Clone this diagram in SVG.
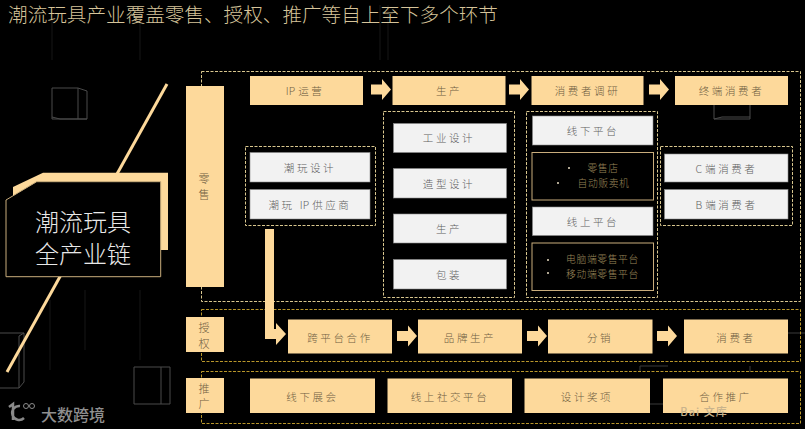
<svg xmlns="http://www.w3.org/2000/svg" width="805" height="429" viewBox="0 0 805 429">
<defs>
<style>
text{font-family:"Noto Sans CJK SC","Noto Sans",sans-serif;text-anchor:middle;dominant-baseline:central}
.t{fill:#fdd99b}
.w{fill:#f2f2f2;stroke:#8a8a8a;stroke-width:.6}
.tl{font-size:10.5px;letter-spacing:2.6px;fill:#6f5e42;font-weight:300}
.wl{font-size:10.5px;letter-spacing:2.6px;fill:#5f5f5f;font-weight:300}
.lat{letter-spacing:.3px}
.v{font-size:11px;fill:#6f5e42;font-weight:300}
.b{font-size:9.800px;letter-spacing:.6px;fill:#9a8658;font-weight:300}
.d1{fill:none;stroke:#d8c68e;stroke-width:1;stroke-dasharray:3 1.5}
.d2{fill:none;stroke:#b8962a;stroke-width:1;stroke-dasharray:3 1.5}
.k{fill:#000;stroke:#c9ad7c;stroke-width:1}
.c{fill:none;stroke:#4a4a4a;stroke-width:1}
.dot{fill:#e8dcc0}
</style>
<path id="arr" d="M0,-5 H11 V-10.5 L20,0 L11,10.5 V5 H0 Z" fill="#fdd99b"/>
</defs>
<rect width="805" height="429" fill="#000"/>
<g id="background">
<path class="c" d="M52,88H78V119H52Z M78,88L87,91V119H78 M52,117L60,119H87"/>
<path class="c" d="M0,333H24L19,336V388H0 M24,333V382L19,388"/>
<path class="c" d="M134,367H170V404H134Z M161,367V404"/>
<path class="c" d="M714,105V119H750V105 M714,119L722,117H750"/>
<path d="M52,10V60 M140,10V60 M380,5V60 M388,5V60 M50,300V370 M85,290V350 M140,290V360" stroke="#161616" fill="none"/>
<path d="M640,366H668 M640,366V372 M780,333H805 M750,366V372 M650,404H668" stroke="#3a3a3a" fill="none"/>
</g>
<text x="253" y="13" style="font-size:19.600px;fill:#d6c49a;font-weight:300">潮流玩具产业覆盖零售、授权、推广等自上至下多个环节</text>
<g id="frames">
<rect class="d1" x="201.500" y="71.500" width="599" height="230"/>
<rect class="d2" x="201.500" y="309.500" width="599" height="52"/>
<rect class="d2" x="201.500" y="371.500" width="599" height="52"/>
</g>
<g id="chain">
<path d="M167,84L7,372" stroke="#fdd99b" stroke-width="3" fill="none"/>
<path d="M13,187L43,172.700H168V250H13Z" fill="#fdd99b"/>
<path d="M6,200L36.700,181.700H160.700V276.700H6Z" fill="#000" stroke="#c9ad7c" stroke-width="1"/>
<text x="83" y="220" style="font-size:24px;fill:#e8e8e8;font-weight:300">潮流玩具</text>
<text x="83" y="252" style="font-size:24px;fill:#e8e8e8;font-weight:300">全产业链</text>
</g>
<g id="cat-retail"><rect class="t" x="186" y="86" width="38" height="201"/><text class="v" x="204" y="178">零</text><text class="v" x="204" y="194">售</text></g>
<g id="cat-license"><rect class="t" x="186" y="317" width="38" height="35"/><text class="v" x="204" y="327">授</text><text class="v" x="204" y="343">权</text></g>
<g id="cat-promo"><rect class="t" x="186" y="378" width="38" height="35"/><text class="v" x="204" y="388">推</text><text class="v" x="204" y="403">广</text></g>
<g id="groups">
<rect class="d1" x="245.500" y="146.500" width="130" height="79"/>
<rect class="d1" x="383.500" y="111.500" width="131" height="186"/>
<rect class="d1" x="526.500" y="111.500" width="131" height="186"/>
<rect class="d1" x="660.500" y="146.500" width="132" height="79"/>
</g>
<g id="connectors">
<use href="#arr" x="371" y="89.500"/>
<use href="#arr" x="509" y="89.500"/>
<use href="#arr" x="649" y="89.500"/>
<use href="#arr" x="397" y="336"/>
<use href="#arr" x="527" y="336"/>
<use href="#arr" x="657" y="336"/>
<path d="M265,229H274V329H276V323L286,334L276,345V339H265Z" fill="#fdd99b"/>
</g>
<g id="n-ip"><rect class="t" x="250" y="76" width="113" height="29"/><text class="tl" x="305" y="90"><tspan class="lat">IP </tspan>运营</text></g>
<g id="n-prod"><rect class="t" x="392.500" y="76" width="113" height="29"/><text class="tl" x="449" y="90">生产</text></g>
<g id="n-research"><rect class="t" x="531.500" y="76" width="112" height="29"/><text class="tl" x="587.500" y="90">消费者调研</text></g>
<g id="n-end"><rect class="t" x="675" y="76" width="113" height="29"/><text class="tl" x="731.500" y="90">终端消费者</text></g>
<g id="n-design"><rect class="w" x="250" y="152.500" width="120" height="29.500"/><text class="wl" x="310" y="167">潮玩设计</text></g>
<g id="n-ipsup"><rect class="w" x="250" y="189.500" width="120" height="29.500"/><text class="wl" x="310" y="204">潮玩 <tspan class="lat">IP </tspan>供应商</text></g>
<g id="n-ind"><rect class="w" x="393.500" y="123.500" width="113" height="29"/><text class="wl" x="449" y="137.500">工业设计</text></g>
<g id="n-shape"><rect class="w" x="393.500" y="168.500" width="113" height="29.500"/><text class="wl" x="449" y="183">造型设计</text></g>
<g id="n-prod2"><rect class="w" x="393.500" y="214" width="113" height="29"/><text class="wl" x="449" y="228">生产</text></g>
<g id="n-pack"><rect class="w" x="393.500" y="259.500" width="113" height="29.500"/><text class="wl" x="449" y="274">包装</text></g>
<g id="n-offline"><rect class="w" x="532.500" y="116" width="120.500" height="29"/><text class="wl" x="593" y="130">线下平台</text></g>
<g id="n-offlist"><rect class="k" x="532" y="152.500" width="121.500" height="47.500"/><circle class="dot" cx="569" cy="168" r="1"/><circle class="dot" cx="558" cy="183" r="1"/><text class="b" x="603" y="168">零售店</text><text class="b" x="603.500" y="183">自动贩卖机</text></g>
<g id="n-online"><rect class="w" x="532.500" y="207" width="120.500" height="28.500"/><text class="wl" x="593" y="221">线上平台</text></g>
<g id="n-onlist"><rect class="k" x="532" y="243" width="121.500" height="47.500"/><circle class="dot" cx="548" cy="260" r="1"/><circle class="dot" cx="548" cy="273" r="1"/><text class="b" x="602.500" y="259">电脑端零售平台</text><text class="b" x="602.500" y="274">移动端零售平台</text></g>
<g id="n-c"><rect class="w" x="664.500" y="154" width="123.500" height="28"/><text class="wl" x="726.500" y="168"><tspan class="lat">C </tspan>端消费者</text></g>
<g id="n-b"><rect class="w" x="664.500" y="189.500" width="123.500" height="29.500"/><text class="wl" x="726.500" y="204"><tspan class="lat">B </tspan>端消费者</text></g>
<g id="n-cross"><rect class="t" x="288" y="319.500" width="104" height="34"/><text class="tl" x="340" y="337">跨平台合作</text></g>
<g id="n-brand"><rect class="t" x="418" y="319.500" width="104" height="34"/><text class="tl" x="470" y="337">品牌生产</text></g>
<g id="n-dist"><rect class="t" x="548" y="319.500" width="104.500" height="34"/><text class="tl" x="600" y="337">分销</text></g>
<g id="n-cons"><rect class="t" x="684" y="319.500" width="104" height="34"/><text class="tl" x="736" y="337">消费者</text></g>
<g id="n-expo"><rect class="t" x="250" y="378.500" width="125" height="34.500"/><text class="tl" x="312.500" y="396">线下展会</text></g>
<g id="n-social"><rect class="t" x="387.500" y="378.500" width="124.500" height="34.500"/><text class="tl" x="450" y="396">线上社交平台</text></g>
<g id="n-award"><rect class="t" x="524.500" y="378.500" width="125.500" height="34.500"/><text class="tl" x="587" y="396">设计奖项</text></g>
<g id="n-coop"><rect class="t" x="663" y="378.500" width="125" height="34.500"/><text class="tl" x="725.500" y="396">合作推广</text></g>
<g id="watermarks">
<path d="M9,407L13,404V420 M20,406A7,7 0 1 0 24,418" fill="none" stroke="#8a8a8a" stroke-width="2.500"/>
<circle cx="26" cy="406" r="2.500" fill="none" stroke="#8a8a8a"/><circle cx="32" cy="406" r="2.500" fill="none" stroke="#8a8a8a"/>
<text x="73" y="414" style="font-size:16px;fill:#8f8f8f;font-weight:500">大数跨境</text>
<text x="704" y="411" style="font-size:11px;letter-spacing:1px;fill:#c9b38c;font-weight:500">Bai 文库</text>
</g>
</svg>
